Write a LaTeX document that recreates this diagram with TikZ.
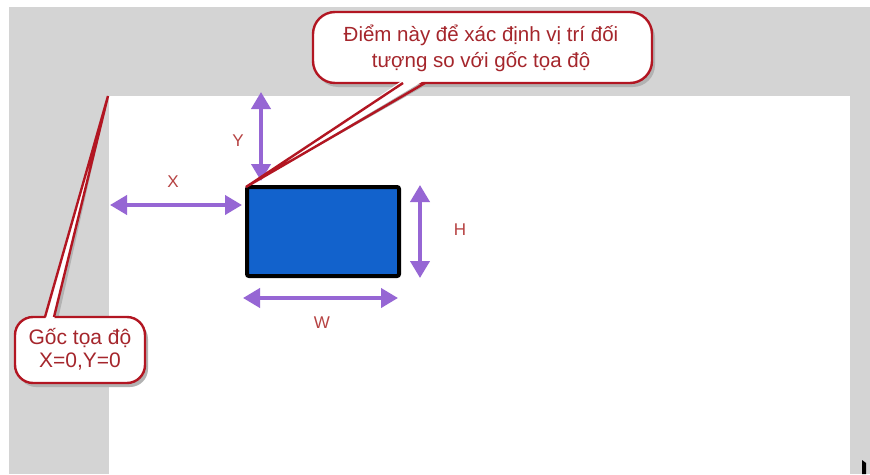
\documentclass[tikz,border=0pt]{standalone}
\usepackage{fontspec}
\setmainfont{Liberation Sans}
\usetikzlibrary{arrows.meta}
\definecolor{bggray}{RGB}{212,212,212}
\definecolor{shadowgray}{RGB}{178,178,178}
\definecolor{callred}{RGB}{178,22,34}
\definecolor{calltext}{RGB}{165,38,44}
\definecolor{dimpurple}{RGB}{150,102,212}
\definecolor{dimlabel}{RGB}{182,66,66}
\definecolor{objblue}{RGB}{18,98,204}
\tikzset{
  calloutline/.style={draw=callred, line width=2.4pt},
  dimarrow/.style={draw=dimpurple, line width=4pt,
    {Triangle[width=19pt,length=17pt]}-{Triangle[width=19pt,length=17pt]}},
  dimtext/.style={text=dimlabel, font=\fontsize{17}{20}\selectfont, inner sep=0pt},
  notetext/.style={text=calltext, align=center, inner sep=0pt},
  objrect/.style={draw=black, fill=objblue, line width=4pt, rounded corners=2pt,
    minimum width=152pt, minimum height=89pt, inner sep=0pt}
}
\begin{document}
\begin{tikzpicture}[x=1pt,y=-1pt]
\useasboundingbox (0,0) rectangle (870,474);
% background
\fill[white] (0,0) rectangle (870,474);
\fill[bggray] (9,7) rectangle (870,474);
\fill[white] (109,96) rectangle (850,474);
\fill[black] (862,460) -- (866,463) -- (866,474) -- (862,474) -- cycle;

% object rectangle
\node[objrect] (obj) at (323,231.5) {};
\coordinate (tipA) at (246,187);
\coordinate (tipB) at (108,96);

% dimension arrows
\coordinate (yT) at (261,92);  \coordinate (yB) at (261,181);
\coordinate (xL) at (110,205); \coordinate (xR) at (242,205);
\coordinate (hT) at (420,185); \coordinate (hB) at (420,278);
\coordinate (wL) at (243,298); \coordinate (wR) at (398,298);
\draw[dimarrow] (yT) -- (yB);
\draw[dimarrow] (xL) -- (xR);
\draw[dimarrow] (hT) -- (hB);
\draw[dimarrow] (wL) -- (wR);
\node[dimtext] (ylab) at (238,141) {Y};
\node[dimtext] (xlab) at (173,182) {X};
\node[dimtext] (hlab) at (460,230) {H};
\node[dimtext] (wlab) at (322,323) {W};

% top callout
\coordinate (a1) at (403,83); \coordinate (a2) at (425,83);
\begin{scope}[shift={(3,4)}]
  \fill[shadowgray, rounded corners=22pt] (313,12) rectangle (652,83);
  \fill[shadowgray] (403,80) -- (tipA) -- (425,80) -- cycle;
\end{scope}
\filldraw[calloutline, fill=white, rounded corners=22pt] (313,12) rectangle (652,83);
\fill[white] (403,80) -- (tipA) -- (425,80) -- cycle;
\draw[calloutline, line join=miter] (a1) -- (tipA) -- (a2);
\node[notetext, font=\fontsize{20.5}{26}\selectfont] (topnote) at (481,48)
  {Điểm này để xác định vị trí đối\\tượng so với gốc tọa độ};

% bottom callout
\coordinate (b1) at (45,317); \coordinate (b2) at (54,317);
\begin{scope}[shift={(3,4)}]
  \fill[shadowgray, rounded corners=18pt] (15,317) rectangle (145,383);
  \fill[shadowgray] (45,320) -- (tipB) -- (54,320) -- cycle;
\end{scope}
\filldraw[calloutline, fill=white, rounded corners=18pt] (15,317) rectangle (145,383);
\fill[white] (45,320) -- (tipB) -- (54,320) -- cycle;
\draw[calloutline, line join=miter] (b1) -- (tipB) -- (b2);
\node[notetext, font=\fontsize{21}{23}\selectfont] (orignote) at (80,349)
  {Gốc tọa độ\\X=0,Y=0};
\end{tikzpicture}
\end{document}
